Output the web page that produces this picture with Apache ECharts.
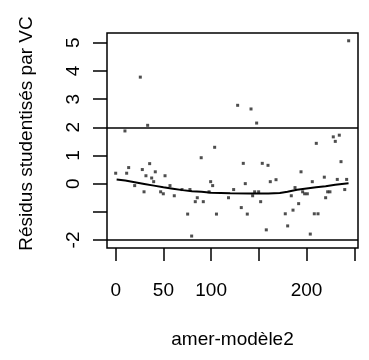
<!DOCTYPE html>
<html>
<head>
<meta charset="utf-8">
<script src="https://cdn.jsdelivr.net/npm/echarts@6/dist/echarts.min.js"></script>
<style>html,body{margin:0;padding:0;background:#fff;}#c{width:369px;height:360px;}</style>
</head>
<body>
<div id="c"></div>
<script>
// residual points (x = fitted order index, y = studentized residual)
const pointX = [244.1,25.8,127.8,141.8,147.7,33.5,9.7,103.7,89.6,0,11.5,13.6,27.9,35.6,31.7,41.5,37.7,39.8,51.7,19.9,29.7,47.1,49.9,61.4,56.9,69.5,77.8,75.4,79.6,99.5,101.6,118.2,105.6,85.5,83.4,91.8,97.8,133.7,153.6,159.6,135.8,162,168,123.6,143.5,145.6,149.8,151.9,131.6,137.9,157.8,194.2,210.2,228,234.3,230.1,236.1,206,218.6,232.2,242,240,220,222.1,224.5,184,187.9,191.7,185.8,177.7,180.2,195.9,198,200.8,208.1,212,203.9];
const pointY = [5.07,3.78,2.78,2.65,2.15,2.07,1.87,1.29,0.92,0.37,0.37,0.57,0.50,0.71,0.28,0.42,0.20,0.07,0.28,-0.07,-0.29,-0.29,-0.36,-0.43,-0.07,-0.21,-0.21,-1.08,-1.86,0.07,-0.07,-0.50,-1.08,-0.50,-0.64,-0.64,-0.29,0.72,0.72,0.65,0.00,0.07,0.14,-0.21,-0.43,-0.29,-0.29,-0.64,-0.85,-1.08,-1.64,0.42,1.43,1.66,1.72,1.50,0.78,0.07,0.23,0.15,0.15,-0.21,-0.50,-0.29,-0.29,-0.43,-0.14,-0.71,-0.94,-1.07,-1.50,-0.29,-0.36,-0.36,-1.07,-1.07,-1.79];
// lowess smooth
const smoothX = [1,10,20,30,40,50,60,70,80,90,100,120,140,160,172,180,190,200,210,220,230,244];
const smoothY = [0.15,0.11,0.05,-0.01,-0.07,-0.13,-0.18,-0.23,-0.27,-0.29,-0.32,-0.34,-0.35,-0.35,-0.33,-0.29,-0.22,-0.17,-0.13,-0.09,-0.04,0.01];
// reference lines
const refLines = [2, -2];
// ticks and labels
const xTicks = [0,50,100,150,200,250];
const xLabels = [0,50,100,200];
const yTicks = [-2,-1,0,1,2,3,4,5];
const yLabels = [-2,0,1,2,3,4,5];

const font = "'Liberation Sans', Arial, sans-serif";
const chart = echarts.init(document.getElementById('c'), null, {renderer:'canvas'});
chart.setOption({
  animation:false,
  backgroundColor:'#fff',
  grid:{left:107,right:11,top:33,bottom:112,show:true,borderColor:'#000',borderWidth:1.5,backgroundColor:'transparent'},
  xAxis:{
    type:'value',min:-9.1,max:253.9,
    splitLine:{show:false},
    axisLine:{show:false,onZero:false},
    axisTick:{show:true,length:13,lineStyle:{color:'#000',width:1.5},customValues:xTicks},
    axisLabel:{customValues:xLabels,margin:33,fontSize:19,color:'#000',fontFamily:font},
    name:'amer-modèle2',nameLocation:'middle',nameGap:82,
    nameTextStyle:{fontSize:19,color:'#000',fontFamily:font}
  },
  yAxis:{
    type:'value',min:-2.284,max:5.346,
    splitLine:{show:false},
    axisLine:{show:false,onZero:false},
    axisTick:{show:true,length:14,lineStyle:{color:'#000',width:1.5},customValues:yTicks},
    axisLabel:{customValues:yLabels,rotate:90,margin:24,fontSize:19,color:'#000',fontFamily:font},
    name:'Résidus studentisés par VC',nameLocation:'middle',nameGap:71,nameRotate:90,
    nameTextStyle:{fontSize:19,color:'#000',fontFamily:font,padding:[0,0,0,14]}
  },
  series:[
    {
      type:'scatter',
      data:pointX.map((x,i)=>[x,pointY[i]]),
      symbol:'rect',symbolSize:3,
      itemStyle:{color:'#222'},
      markLine:{
        silent:true,symbol:'none',label:{show:false},
        lineStyle:{color:'#000',width:1.5,type:'solid'},
        data:refLines.map(v=>({yAxis:v}))
      }
    },
    {
      type:'line',
      data:smoothX.map((x,i)=>[x,smoothY[i]]),
      showSymbol:false,
      lineStyle:{color:'#000',width:2}
    }
  ]
});
</script>
</body>
</html>
